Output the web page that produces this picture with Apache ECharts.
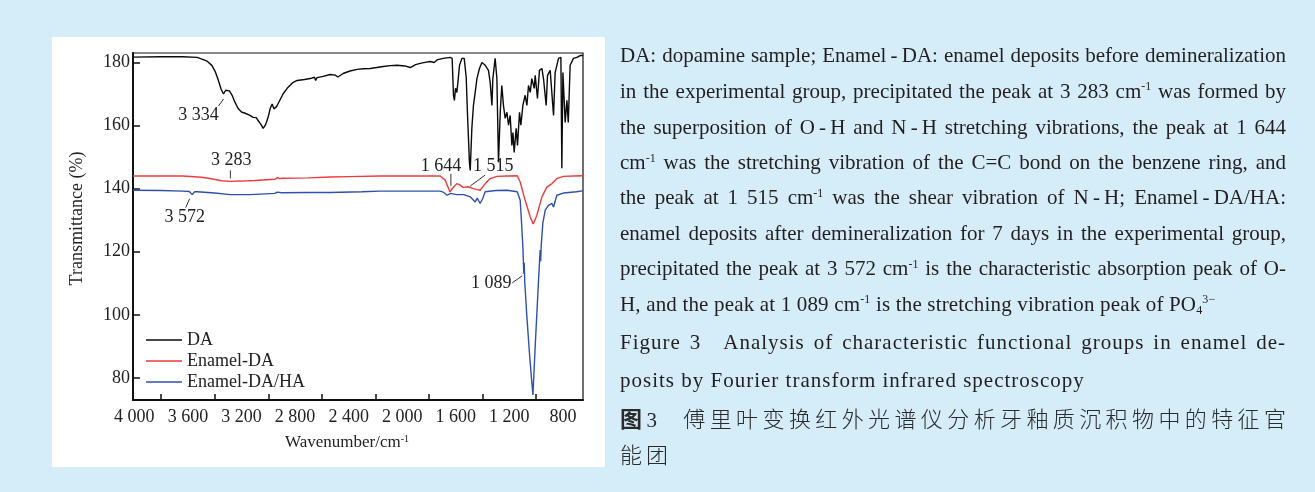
<!DOCTYPE html>
<html><head><meta charset="utf-8">
<script src="https://cdn.jsdelivr.net/npm/echarts@6/dist/echarts.min.js"></script>
<style>
html,body{margin:0;padding:0;}
body{width:1315px;height:492px;background:#d5ecf9;position:relative;overflow:hidden;}
#panel{position:absolute;left:52px;top:37px;width:553px;height:430px;background:#fff;}
#chart{position:absolute;left:0;top:0;width:1315px;height:492px;}
.cap{position:absolute;left:620px;width:666px;font-family:"Liberation Serif","Times New Roman",serif;font-size:21px;color:#231f20;height:30px;line-height:30px;white-space:normal;}
.j{text-align:justify;text-align-last:justify;}
.n{white-space:nowrap;}
.zh{font-family:"Noto Sans CJK SC",sans-serif;font-weight:300;font-size:22px;color:#2a2a2a;}
.cap sup{font-size:12px;vertical-align:baseline;position:relative;top:-0.62em;line-height:0;}
.cap sub{font-size:12px;vertical-align:baseline;position:relative;top:0.3em;line-height:0;}
</style></head>
<body>
<div id="panel"></div>
<div id="chart"></div>
<div class="cap j" style="top:40px">DA: dopamine sample; Enamel&#8201;-&#8201;DA: enamel deposits before demineralization</div>
<div class="cap j" style="top:75.5px">in the experimental group, precipitated the peak at 3 283 cm<sup>-1</sup> was formed by</div>
<div class="cap j" style="top:111.5px">the superposition of O&#8201;-&#8201;H and N&#8201;-&#8201;H stretching vibrations, the peak at 1 644</div>
<div class="cap j" style="top:147px">cm<sup>-1</sup> was the stretching vibration of the C=C bond on the benzene ring, and</div>
<div class="cap j" style="top:182px">the peak at 1 515 cm<sup>-1</sup> was the shear vibration of N&#8201;-&#8201;H; Enamel&#8201;-&#8201;DA/HA:</div>
<div class="cap j" style="top:217.5px">enamel deposits after demineralization for 7 days in the experimental group,</div>
<div class="cap j" style="top:253px">precipitated the peak at 3 572 cm<sup>-1</sup> is the characteristic absorption peak of O-</div>
<div class="cap n" style="top:288.5px;letter-spacing:0.17px">H, and the peak at 1 089 cm<sup>-1</sup> is the stretching vibration peak of PO<sub>4</sub><sup>3−</sup></div>
<div class="cap j" style="top:327px;letter-spacing:1px">Figure 3&emsp;Analysis of characteristic functional groups in enamel de-</div>
<div class="cap n" style="top:365px;letter-spacing:1px">posits by Fourier transform infrared spectroscopy</div>
<div class="cap j zh" style="top:402px"><b style="font-weight:700">图</b><span style="font-family:'Liberation Serif',serif;font-size:21px">3</span>&emsp;傅里叶变换红外光谱仪分析牙釉质沉积物中的特征官</div>
<div class="cap zh" style="top:438px;letter-spacing:4px">能团</div>
<script>
// ---- data ----
const seriesNames = ['DA', 'Enamel-DA', 'Enamel-DA/HA'];
const wavenumberLabels = [4000, 3600, 3200, 2800, 2400, 2000, 1600, 1200, 800];
const wavenumberTicks = [3800, 3400, 3000, 2600, 2200, 1800, 1400, 1000];
const transmittanceTicks = [80, 100, 120, 140, 160, 180];

const daValues = [
[4010,181.7],[3800,181.8],[3640,181.8],[3531,181.6],[3490,181.0],[3456,180.4],[3420,179.0],[3397,177.2],[3374,174.5],[3352,171.5],[3334,170.0],[3318,171.2],[3307,171.7],[3290,171.0],[3270,169.6],[3250,167.5],[3225,165.4],[3200,164.3],[3173,163.9],[3140,163.3],[3113,162.6],[3090,162.5],[3076,161.6],[3055,160.4],[3038,159.1],[3020,160.3],[3001,162.6],[2985,165.5],[2971,166.8],[2958,165.3],[2949,164.8],[2938,166.0],[2926,167.0],[2890,170.0],[2859,171.8],[2820,173.5],[2784,174.3],[2730,174.6],[2687,174.9],[2655,175.3],[2646,174.3],[2636,175.2],[2590,175.6],[2538,176.2],[2500,176.0],[2480,175.4],[2441,176.5],[2390,177.3],[2336,177.8],[2290,178.0],[2239,178.1],[2190,178.4],[2142,178.7],[2090,179.0],[2038,179.1],[1980,178.9],[1940,178.4],[1900,179.3],[1866,179.7],[1820,180.1],[1791,180.3],[1761,180.0],[1740,180.8],[1694,181.3],[1642,181.6],[1627,181.3],
[1617,169.6],[1610,168.0],[1602,171.8],[1592,170.5],[1584,173.7],[1572,179.1],[1554,181.3],[1537,181.3],[1522,175.3],[1513,164.2],[1498,148.4],[1492,145.8],[1480,159.1],[1468,166.4],[1455,170.5],[1442,174.9],[1423,178.1],[1405,180.0],[1393,180.6],[1380,179.1],[1356,177.5],[1343,173.7],[1330,166.4],[1323,174.9],[1306,181.3],[1293,174.9],[1281,148.4],[1268,164.2],[1256,172.7],[1244,166.4],[1231,162.3],[1218,164.2],[1206,160.1],[1194,163.2],[1181,153.7],[1173,157.8],[1164,151.5],[1149,159.1],[1139,153.7],[1124,164.2],[1114,160.1],[1099,166.4],[1082,169.6],[1069,166.4],[1057,172.7],[1044,170.5],[1032,174.9],[1014,171.8],[1007,175.9],[990,168.6],[975,177.5],[957,178.1],[945,174.9],[925,166.4],[915,175.9],[895,177.5],[870,163.2],[858,176.8],[833,181.3],[815,181.6],[808,146.5],[800,176.8],[783,161.0],[770,168.0],[760,161.0],[746,179.1],[721,181.3],[696,181.6],[671,182.2],[650,182.2]
];

const enamelDaValues = [
[4010,144.0],[3800,144.0],[3636,144.0],[3500,143.6],[3434,143.2],[3350,142.5],[3285,142.3],[3200,142.4],[3100,142.6],[2950,143.0],[2930,143.5],[2915,143.2],[2889,143.3],[2700,143.4],[2538,143.7],[2400,143.8],[2165,144.0],[1900,144.0],[1716,144.0],[1679,142.7],[1644,139.0],[1620,140.3],[1592,141.6],[1570,141.2],[1545,140.4],[1507,140.6],[1470,140.0],[1440,139.7],[1418,139.5],[1405,140.1],[1380,141.6],[1343,143.2],[1293,143.9],[1216,144.0],[1141,144.1],[1119,142.1],[1082,136.3],[1044,131.0],[1022,128.8],[995,131.5],[957,137.4],[920,140.5],[882,141.6],[873,141.1],[845,143.2],[798,143.9],[723,144.0],[650,144.1]
];

const enamelDaHaValues = [
[4010,139.5],[3800,139.4],[3636,139.2],[3590,139.1],[3568,138.1],[3550,139.0],[3531,139.0],[3400,138.6],[3285,138.1],[3135,138.1],[2950,138.5],[2934,138.9],[2926,139.1],[2900,138.7],[2700,138.8],[2538,138.8],[2300,139.0],[2165,139.2],[1900,139.2],[1716,139.2],[1690,138.8],[1664,137.9],[1640,138.5],[1592,138.1],[1540,138.1],[1492,137.4],[1455,135.8],[1440,137.0],[1418,135.3],[1400,136.8],[1380,139.0],[1300,139.4],[1218,139.5],[1141,139.0],[1119,136.3],[1110,130.0],[1099,121.6],[1092,113.0],[1089,116.5],[1085,110.5],[1070,100.0],[1050,88.0],[1035,80.0],[1024,74.6],[1007,89.9],[982,111.0],[970,120.5],[966,117.0],[962,122.0],[950,129.0],[932,133.2],[908,134.7],[882,135.3],[870,134.2],[845,137.9],[796,138.6],[700,139.0],[650,139.3]
];

const peakLabels = ['3 334', '3 283', '3 572', '1 644', '1 515', '1 089'];
const peakPoints = [[3334,170.0],[3283,142.3],[3572,138.1],[1644,139.0],[1515,140.5],[1089,113.0]];

// ---- layout (pixel offsets from the peak point) ----
const peakLayout = [
  {l1:[0,5], l2:[-5,12], t:[-25,21]},
  {l1:[0,-11], l2:[0,-3], t:[1,-21]},
  {l1:[-2,4], l2:[-6,13], t:[-7,23]},
  {l1:[1,-18], l2:[1,-6], t:[-9,-26]},
  {l1:[18,-12], l2:[3,-1], t:[26,-21]},
  {l1:[-12,9], l2:[-2,2], t:[-33,9]}
];

const colors = ['#0b0b0b', '#f23a3a', '#2f50ae'];
const serif = '"Liberation Serif","Times New Roman",serif';
const fmt = v => v >= 1000 ? Math.floor(v/1000) + ' ' + String(v % 1000).padStart(3, '0') : String(v);

const chart = echarts.init(document.getElementById('chart'), null, {renderer: 'canvas'});
const allData = [daValues, enamelDaValues, enamelDaHaValues];

chart.setOption({
  animation: false,
  backgroundColor: 'transparent',
  grid: {left: 133, top: 53, width: 450, height: 347, show: true, borderColor: '#111', borderWidth: 1.2, backgroundColor: 'transparent'},
  legend: {
    data: seriesNames, orient: 'vertical', left: 146, top: 329.5, icon: 'rect', itemWidth: 36, itemHeight: 1.6, itemGap: 0, padding: 0,
    textStyle: {fontFamily: serif, fontSize: 18, color: '#222', lineHeight: 21}
  },
  xAxis: {
    type: 'value', inverse: true, min: 650, max: 4010,
    name: 'Wavenumber/cm{s|-1}', nameLocation: 'middle', nameGap: 34,
    nameTextStyle: {fontFamily: serif, fontSize: 17, color: '#222', padding: [0, 22, 0, 0], rich: {s: {fontFamily: serif, fontSize: 10, verticalAlign: 'top', lineHeight: 12, color: '#222'}}},
    axisLine: {show: true, onZero: false, lineStyle: {color: '#111', width: 2}},
    axisTick: {show: true, inside: true, length: 6, customValues: wavenumberTicks, lineStyle: {color: '#111', width: 1.5}},
    axisLabel: {customValues: wavenumberLabels, formatter: fmt, fontFamily: serif, fontSize: 18, color: '#222', margin: 8},
    splitLine: {show: false}
  },
  yAxis: {
    type: 'value', min: 73, max: 183,
    name: 'Transmittance (%)', nameLocation: 'middle', nameGap: 47, nameRotate: 90,
    nameTextStyle: {fontFamily: serif, fontSize: 18, color: '#222', padding: [0, 0, 0, 16]},
    axisLine: {show: true, onZero: false, lineStyle: {color: '#111', width: 2}},
    axisTick: {show: true, inside: true, length: 7, customValues: transmittanceTicks, lineStyle: {color: '#111', width: 1.5}},
    axisLabel: {customValues: transmittanceTicks, fontFamily: serif, fontSize: 18, color: '#222', margin: 3},
    splitLine: {show: false}
  },
  series: seriesNames.map((n, i) => ({
    name: n, type: 'line', data: allData[i], symbol: 'none', showSymbol: false,
    lineStyle: {color: colors[i], width: 1.4}, itemStyle: {color: colors[i]}, z: 3 - i
  }))
});

const graphics = [];
peakLabels.forEach((txt, i) => {
  const p = chart.convertToPixel({gridIndex: 0}, peakPoints[i]);
  const L = peakLayout[i];
  graphics.push({type: 'line', silent: true, shape: {x1: p[0] + L.l1[0], y1: p[1] + L.l1[1], x2: p[0] + L.l2[0], y2: p[1] + L.l2[1]}, style: {stroke: '#333', lineWidth: 1}});
  graphics.push({type: 'text', silent: true, x: p[0] + L.t[0], y: p[1] + L.t[1], style: {text: txt, fontFamily: serif, fontSize: 18, fill: '#222', align: 'center', verticalAlign: 'middle'}});
});
chart.setOption({graphic: graphics});
</script>
</body></html>
